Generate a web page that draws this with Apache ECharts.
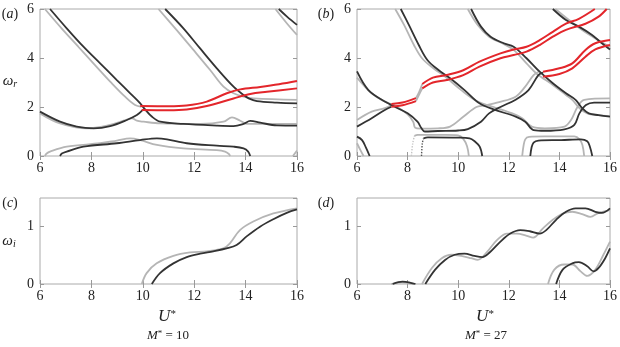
<!DOCTYPE html>
<html>
<head>
<meta charset="utf-8">
<script src="https://cdn.jsdelivr.net/npm/echarts@6.0.0/dist/echarts.min.js"></script>
<style>
  html, body { margin: 0; padding: 0; background: #fff; }
  #chart { width: 620px; height: 347px; }
</style>
</head>
<body>
<div id="chart"></div>
<script>
// tick labels
var xTicks = [6, 8, 10, 12, 14, 16];
var yTicksTop = [0, 2, 4, 6];
var yTicksBottom = [0, 1];

// ---- panel (a): omega_r, M* = 10 ----
var aDark1 = [[6.39,6.0],[7.04,5.21],[7.69,4.46],[8.34,3.78],[8.99,3.10],[9.51,2.56],[9.9,2.15],[10.09,1.9],[10.35,1.61],[10.68,1.40],[11.58,1.31],[12.88,1.24],[13.53,1.22],[13.92,1.31],[14.18,1.43],[14.57,1.36],[15.22,1.25],[16,1.24]];
var aDark2 = [[6,1.81],[6.78,1.40],[7.43,1.20],[8.08,1.13],[8.73,1.22],[9.38,1.47],[9.77,1.67],[10.0,1.88]];
var aDark3 = [[10.87,6.0],[11.58,5.21],[12.23,4.39],[12.88,3.58],[13.53,2.83],[13.92,2.49],[14.12,2.35],[14.44,2.24],[15.22,2.18],[16,2.15]];
var aDark4 = [[15.29,6.0],[15.61,5.69],[16,5.35]];
var aDark5 = [[6.78,0],[6.85,0.1],[7.04,0.18],[7.69,0.38],[8.99,0.52],[9.9,0.65],[10.55,0.72],[10.94,0.68],[11.71,0.52],[12.88,0.42],[13.53,0.38],[13.92,0.31],[14.1,0.18],[14.18,0]];
var aLight1 = [[6.19,6.0],[6.84,5.21],[7.49,4.46],[8.14,3.71],[8.79,2.97],[9.31,2.42],[9.7,2.08],[9.95,2.01]];
var aLight2 = [[6,1.74],[6.78,1.33],[7.82,1.13],[8.73,1.27],[9.25,1.44],[9.58,1.54],[9.77,1.44],[10.03,1.40],[10.68,1.33],[12.23,1.31],[13.14,1.40],[13.47,1.58],[13.79,1.44],[14.05,1.31],[16,1.31]];
var aLight3 = [[10.61,6.0],[11.32,5.14],[11.97,4.33],[12.62,3.51],[13.14,2.83],[13.53,2.56],[13.92,2.42],[14.31,2.35],[16,2.29]];
var aLight4 = [[15.16,6.0],[15.61,5.41],[16,4.94]];
var aLight5 = [[6.19,0],[6.26,0.1],[6.39,0.18],[7.04,0.38],[8.34,0.52],[8.99,0.63],[9.51,0.72],[9.9,0.65],[10.55,0.45],[11.58,0.31],[12.88,0.24],[13.2,0.18],[13.35,0.08],[13.4,0]];
var aLight6 = [[15.84,0],[16,0.22]];
var aRed1 = [[9.9,2.04],[11.0,2.03],[11.7,2.06],[12.49,2.22],[13.27,2.56],[13.79,2.72],[14.57,2.82],[15.3,2.93],[16,3.06]];
var aRed2 = [[9.96,1.88],[11.0,1.87],[11.71,1.9],[12.49,2.04],[13.53,2.35],[14.18,2.53],[14.83,2.62],[16,2.76]];

// ---- panel (b): omega_r, M* = 27 ----
var bDark1 = [[7.73,6.0],[8.05,5.35],[8.44,4.53],[8.78,3.92],[9.22,3.51],[9.68,3.17],[10.25,2.69],[10.84,2.15],[11.4,1.9],[12.27,1.61],[12.65,1.4],[12.98,1.06],[13.43,1.03],[14.2,1.09],[14.59,1.27],[14.79,1.74],[15.05,2.08],[15.37,2.18],[16,2.18]];
var bDark2 = [[10.51,6.0],[10.9,5.28],[11.28,4.87],[11.8,4.6],[12.19,4.46],[12.7,3.99],[13.22,3.44],[13.74,2.97],[14.26,2.56],[14.64,2.29],[14.9,1.95],[15.16,1.74],[15.55,1.67],[16,1.61]];
var bDark3 = [[13.74,6.0],[14.26,5.55],[14.77,5.28],[15.29,4.94],[15.68,4.6],[16,4.35]];
var bDark4 = [[6.0,3.45],[6.45,2.69],[7.1,2.22],[7.49,2.01],[8.0,1.74],[8.39,1.40],[8.55,1.13],[8.68,1.0],[9.2,1.02],[10.0,1.04],[10.38,1.1],[10.9,1.4],[11.22,1.74],[11.67,2.0],[12.27,2.3],[12.78,2.69],[13.17,3.3],[13.35,3.4]];
var bDark5 = [[6.0,1.2],[6.58,1.54],[7.1,1.88],[7.36,2.01]];
var bDark6 = [[6.0,0.79],[6.2,0.65],[6.35,0.35],[6.5,0]];
var bDark7 = [[8.63,0.72],[8.8,0.76],[10.0,0.75],[10.45,0.72],[10.65,0.6],[10.85,0.38],[10.95,0]];
var bDark7v = [[8.55,0],[8.58,0.5],[8.63,0.72]];
var bDark8 = [[12.85,0],[12.9,0.35],[12.98,0.55],[13.17,0.63],[14.07,0.65],[14.85,0.68],[15.1,0.6],[15.2,0.4],[15.3,0]];
var bLight1 = [[7.51,6.0],[7.86,5.35],[8.25,4.53],[8.57,3.99],[9.02,3.58],[9.48,3.24],[10.12,2.69],[10.77,2.22],[11.4,2.0],[12.14,1.74],[12.53,1.54],[12.91,1.2],[13.43,1.13],[14.2,1.2],[14.46,1.47],[14.72,2.01],[14.98,2.29],[16,2.35]];
var bLight2 = [[10.38,6.0],[10.77,5.35],[11.22,4.87],[11.74,4.6],[12.19,4.33],[12.7,3.78],[13.09,3.37],[13.74,2.9],[14.26,2.49],[14.51,2.29],[14.8,1.95],[15.1,1.74],[15.5,1.67],[16,1.63]];
var bLight3 = [[13.84,6.0],[14.38,5.55],[14.9,5.14],[15.42,4.8],[16,4.46]];
var bLight4 = [[6.0,3.2],[6.58,2.56],[7.1,2.22],[7.49,2.06],[8.0,1.7],[8.22,1.4],[8.3,1.15],[8.5,1.12],[9.2,1.13],[9.68,1.2],[10.2,1.6],[10.72,2.0],[11.03,2.06],[11.62,2.2],[12.27,2.42],[12.65,2.83],[12.98,3.3],[13.2,3.45]];
var bLight5 = [[6.0,1.47],[6.58,1.81],[7.1,1.95],[7.36,2.08]];
var bLight6 = [[6.0,0.52],[6.13,0.25],[6.26,0]];
var bLight7 = [[8.27,0.82],[8.4,0.86],[9.5,0.86],[10.0,0.84],[10.2,0.7],[10.35,0.4],[10.42,0]];
var bLight7v = [[8.15,0],[8.2,0.5],[8.27,0.82]];
var bLight8 = [[12.53,0],[12.58,0.4],[12.65,0.68],[12.8,0.78],[13.43,0.8],[14.59,0.8],[14.8,0.68],[14.91,0.45],[14.98,0]];
var bLight9 = [[8.33,2.36],[8.45,2.6],[8.58,2.94]];
var bLight10 = [[8.33,2.24],[8.45,2.5],[8.58,2.76]];
var bRed1 = [[7.36,2.12],[7.8,2.18],[8.33,2.36]];
var bRed2 = [[7.36,2.01],[7.8,2.07],[8.33,2.24]];
var bRed3 = [[8.58,2.94],[9.0,3.2],[9.55,3.31],[10.2,3.5],[10.84,3.85],[11.67,4.19],[12.19,4.35],[12.7,4.46],[13.22,4.73],[13.74,5.07],[14.26,5.4],[14.77,5.6],[15.4,6.0]];
var bRed4 = [[8.58,2.76],[9.0,3.0],[9.55,3.1],[10.2,3.3],[10.84,3.65],[11.67,3.99],[12.19,4.12],[12.7,4.26],[13.22,4.53],[13.74,4.87],[14.26,5.15],[15.03,5.4],[15.55,5.69],[15.87,6.0]];
var bRed5 = [[13.35,3.44],[14.0,3.58],[14.51,3.78],[15.03,4.33],[15.42,4.6],[16,4.73]];
var bRed6 = [[13.35,3.24],[14.0,3.35],[14.51,3.58],[15.03,4.05],[15.42,4.35],[16,4.53]];

// ---- panel (c): omega_i, M* = 10 ----
var cDark = [[10.35,0],[10.67,0.19],[11.19,0.36],[11.71,0.47],[12.23,0.53],[12.74,0.57],[13.26,0.62],[13.65,0.68],[14.04,0.83],[14.56,1.0],[15.08,1.13],[15.6,1.24],[16,1.3]];
var cLight = [[9.96,0],[10.15,0.19],[10.54,0.36],[11.19,0.49],[11.84,0.55],[12.49,0.57],[13.13,0.62],[13.39,0.71],[13.78,0.94],[14.3,1.09],[15.08,1.23],[16,1.32]];

// ---- panel (d): omega_i, M* = 27 ----
var dDark1 = [[7.41,0],[7.8,0.04],[8.05,0.03],[8.31,0]];
var dDark2 = [[8.7,0],[9.09,0.25],[9.48,0.42],[9.86,0.51],[10.25,0.53],[10.64,0.49],[10.96,0.47],[11.22,0.54],[11.67,0.74],[12.06,0.88],[12.45,0.94],[12.83,0.92],[13.22,0.88],[13.48,0.94],[13.87,1.12],[14.26,1.26],[14.64,1.32],[15.03,1.32],[15.42,1.26],[15.68,1.24],[16,1.32]];
var dDark3 = [[13.87,0],[14.13,0.25],[14.51,0.36],[14.77,0.38],[15.1,0.31],[15.35,0.22],[15.55,0.28],[15.81,0.45],[16,0.62]];
var dLight1 = [[7.35,0],[7.75,0.03],[8.0,0.02],[8.25,0]];
var dLight2 = [[8.57,0],[8.96,0.28],[9.35,0.45],[9.73,0.51],[10.12,0.49],[10.51,0.45],[10.77,0.42],[11.16,0.57],[11.54,0.77],[11.93,0.88],[12.32,0.88],[12.71,0.84],[12.96,0.81],[13.35,0.97],[13.74,1.12],[14.13,1.23],[14.51,1.26],[14.9,1.22],[15.22,1.17],[15.55,1.24],[16,1.29]];
var dLight3 = [[13.55,0],[13.8,0.25],[14.19,0.34],[14.51,0.34],[14.84,0.22],[15.1,0.14],[15.42,0.25],[15.74,0.51],[16,0.74]];

var myChart = echarts.init(document.getElementById('chart'));

var FONT = 'Liberation Serif';
var styles = {
  dark:  { color: '#333333', width: 1.8, z: 3 },
  light: { color: '#b5b5b5', width: 1.8, z: 2 },
  red:   { color: '#e3262b', width: 2,   z: 4 },
  // faint dotted vertical pieces near the axis
  darkDot:  { color: '#555555', width: 1.4, z: 3, type: 'dotted' },
  lightDot: { color: '#c4c4c4', width: 1.4, z: 2, type: 'dotted' }
};

// which curve goes in which panel
var curves = [
  [aLight1, 0, 'light'], [aLight2, 0, 'light'], [aLight3, 0, 'light'], [aLight4, 0, 'light'], [aLight5, 0, 'light'], [aLight6, 0, 'light'],
  [aDark1, 0, 'dark'], [aDark2, 0, 'dark'], [aDark3, 0, 'dark'], [aDark4, 0, 'dark'], [aDark5, 0, 'dark'],
  [aRed1, 0, 'red'], [aRed2, 0, 'red'],
  [bLight1, 1, 'light'], [bLight2, 1, 'light'], [bLight3, 1, 'light'], [bLight4, 1, 'light'], [bLight5, 1, 'light'],
  [bLight6, 1, 'light'], [bLight7, 1, 'light'], [bLight7v, 1, 'lightDot'], [bLight8, 1, 'light'], [bLight9, 1, 'light'], [bLight10, 1, 'light'],
  [bDark1, 1, 'dark'], [bDark2, 1, 'dark'], [bDark3, 1, 'dark'], [bDark4, 1, 'dark'], [bDark5, 1, 'dark'],
  [bDark6, 1, 'dark'], [bDark7, 1, 'dark'], [bDark7v, 1, 'darkDot'], [bDark8, 1, 'dark'],
  [bRed1, 1, 'red'], [bRed2, 1, 'red'], [bRed3, 1, 'red'], [bRed4, 1, 'red'], [bRed5, 1, 'red'], [bRed6, 1, 'red'],
  [cLight, 2, 'light'], [cDark, 2, 'dark'],
  [dLight1, 3, 'light'], [dLight2, 3, 'light'], [dLight3, 3, 'light'],
  [dDark1, 3, 'dark'], [dDark2, 3, 'dark'], [dDark3, 3, 'dark']
];

var series = curves.map(function (c) {
  var s = styles[c[2]];
  return {
    type: 'line',
    xAxisIndex: c[1],
    yAxisIndex: c[1],
    data: c[0],
    smooth: 0.35,
    showSymbol: false,
    silent: true,
    z: s.z,
    lineStyle: { color: s.color, width: s.width, type: s.type || 'solid' }
  };
});

var grids = [
  { left: 40,  top: 9,   width: 257, height: 147 },
  { left: 357, top: 9,   width: 258, height: 147 },
  { left: 40,  top: 198, width: 257, height: 86 },
  { left: 357, top: 198, width: 258, height: 86 }
];
grids.forEach(function (g) {
  g.show = true;
  g.borderColor = '#aaaaaa';
  g.borderWidth = 1;
  g.containLabel = false;
});

var tickStyle = { inside: true, length: 4, lineStyle: { color: '#999999' } };
var labelStyle = { color: '#222', fontFamily: FONT, fontSize: 14 };

var xAxes = [];
var yAxes = [];
[0, 1, 2, 3].forEach(function (i) {
  // bottom axis with labels
  xAxes.push({
    type: 'value', gridIndex: i, min: xTicks[0], max: xTicks[xTicks.length - 1], interval: 2,
    position: 'bottom',
    axisLine: { show: false }, splitLine: { show: false },
    axisTick: tickStyle,
    axisLabel: Object.assign({ margin: 5 }, labelStyle)
  });
  var top = i < 2;
  var yt = top ? yTicksTop : yTicksBottom;
  yAxes.push({
    type: 'value', gridIndex: i, min: 0, max: top ? 6 : 1.5, interval: top ? 2 : 1,
    position: 'left',
    axisLine: { show: false }, splitLine: { show: false },
    axisTick: tickStyle,
    axisLabel: Object.assign({ margin: 6, showMaxLabel: top, formatter: function (v) { return yt.indexOf(v) >= 0 ? String(v) : ''; } }, labelStyle)
  });
});
// top and right axes: ticks only
[0, 1, 2, 3].forEach(function (i) {
  var top = i < 2;
  xAxes.push({
    type: 'value', gridIndex: i, min: 6, max: 16, interval: 2, position: 'top',
    axisLine: { show: false }, splitLine: { show: false },
    axisTick: tickStyle, axisLabel: { show: false }
  });
  yAxes.push({
    type: 'value', gridIndex: i, min: 0, max: top ? 6 : 1.5, interval: top ? 2 : 1, position: 'right',
    axisLine: { show: false }, splitLine: { show: false },
    axisTick: tickStyle, axisLabel: { show: false }
  });
});

function txt(x, y, text, rich, align) {
  return {
    type: 'text', x: x, y: y, silent: true,
    style: { text: text, rich: rich, fill: '#222', align: align || 'center', verticalAlign: 'middle', font: '14px ' + FONT }
  };
}
var richPanel = {
  p: { fontFamily: FONT, fontSize: 14, fill: '#222' },
  i: { fontFamily: FONT, fontSize: 14, fontStyle: 'italic', fill: '#222' }
};
var richOmega = {
  w: { fontFamily: FONT, fontSize: 15, fontStyle: 'italic', fill: '#222' },
  s: { fontFamily: FONT, fontSize: 10, fontStyle: 'italic', fill: '#222', verticalAlign: 'bottom', padding: [6, 0, 0, 0] }
};
var richU = {
  u: { fontFamily: FONT, fontSize: 17, fontStyle: 'italic', fill: '#222' },
  s: { fontFamily: FONT, fontSize: 11, fill: '#222', verticalAlign: 'top' }
};
var richM = {
  m: { fontFamily: FONT, fontSize: 13, fontStyle: 'italic', fill: '#222' },
  s: { fontFamily: FONT, fontSize: 9, fill: '#222', verticalAlign: 'top' },
  n: { fontFamily: FONT, fontSize: 13, fill: '#222' }
};

var option = {
  animation: false,
  backgroundColor: '#fff',
  grid: grids,
  xAxis: xAxes,
  yAxis: yAxes,
  series: series,
  graphic: [
    txt(10, 14, '{p|(}{i|a}{p|)}', richPanel),
    txt(326, 14, '{p|(}{i|b}{p|)}', richPanel),
    txt(10, 203, '{p|(}{i|c}{p|)}', richPanel),
    txt(326, 203, '{p|(}{i|d}{p|)}', richPanel),
    txt(10, 81, '{w|ω}{s|r}', richOmega),
    txt(9, 241, '{w|ω}{s|i}', richOmega),
    txt(167, 317, '{u|U}{s|*}', richU),
    txt(485, 317, '{u|U}{s|*}', richU),
    txt(168, 336, '{m|M}{s|*}{n| = 10}', richM),
    txt(486, 336, '{m|M}{s|*}{n| = 27}', richM)
  ]
};

myChart.setOption(option);
</script>
</body>
</html>
